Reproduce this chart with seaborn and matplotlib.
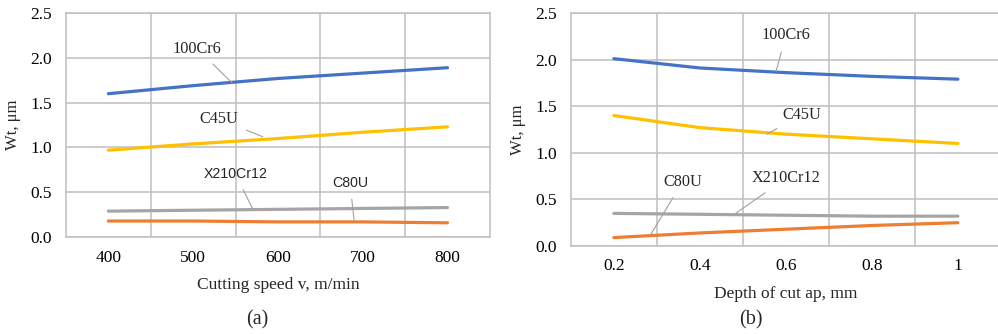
import numpy as np
import pandas as pd
import matplotlib
matplotlib.use('Agg')
import matplotlib.pyplot as plt
import seaborn as sns

# Data
materials = ['100Cr6', 'C80U', 'X210Cr12', 'C45U']
colors = ['#4472C4', '#ED7D31', '#A5A5A5', '#FFC000']

speed = [400, 500, 600, 700, 800]
wt_speed_100cr6 = [1.60, 1.69, 1.77, 1.83, 1.89]
wt_speed_c80u = [0.18, 0.18, 0.17, 0.17, 0.16]
wt_speed_x210 = [0.29, 0.30, 0.31, 0.32, 0.33]
wt_speed_c45u = [0.97, 1.04, 1.10, 1.17, 1.23]

depth = [0.2, 0.4, 0.6, 0.8, 1.0]
depth_labels = ['0.2', '0.4', '0.6', '0.8', '1']
wt_depth_100cr6 = [2.01, 1.91, 1.86, 1.82, 1.79]
wt_depth_c80u = [0.09, 0.14, 0.18, 0.22, 0.25]
wt_depth_x210 = [0.35, 0.34, 0.33, 0.32, 0.32]
wt_depth_c45u = [1.40, 1.27, 1.20, 1.15, 1.10]

y_ticks = [0.0, 0.5, 1.0, 1.5, 2.0, 2.5]


def long_form(x, series):
    rows = []
    for name, vals in zip(materials, series):
        for xi, v in zip(x, vals):
            rows.append({'x': xi, 'Wt': v, 'material': name})
    return pd.DataFrame(rows)


df_a = long_form(speed, [wt_speed_100cr6, wt_speed_c80u, wt_speed_x210, wt_speed_c45u])
df_b = long_form(depth, [wt_depth_100cr6, wt_depth_c80u, wt_depth_x210, wt_depth_c45u])

sns.set_theme(style='white')
plt.rcParams['font.family'] = ['Liberation Serif', 'DejaVu Serif']

fig = plt.figure(figsize=(9.98, 3.34), dpi=100)
ax1 = fig.add_axes([0.0661, 0.290, 0.4248, 0.671])
ax2 = fig.add_axes([0.572, 0.2635, 0.4309, 0.6976])

grid_c = '#BFBFBF'


def style_axes(ax, xlim, xticks, xlabels, minor):
    ax.set_xlim(*xlim)
    ax.set_ylim(0, 2.5)
    ax.set_xticks(xticks)
    ax.set_xticklabels(xlabels)
    ax.set_xticks(minor, minor=True)
    ax.set_yticks(y_ticks)
    ax.set_yticklabels([f'{t:.1f}' for t in y_ticks])
    ax.grid(False)
    ax.grid(True, axis='y', which='major', color=grid_c, lw=1.1)
    ax.grid(True, axis='x', which='minor', color=grid_c, lw=1.1)
    ax.set_axisbelow(True)
    for s in ax.spines.values():
        s.set_color(grid_c)
        s.set_linewidth(1.1)
    ax.tick_params(axis='both', which='both', length=0, labelsize=12.5, colors='black')
    ax.tick_params(axis='y', pad=10)
    ax.tick_params(axis='x', pad=9)
    ax.set_ylabel('Wt, μm', fontsize=12, labelpad=7)


sns.lineplot(data=df_a, x='x', y='Wt', hue='material', hue_order=materials,
             palette=colors, lw=2.3, legend=False, ax=ax1)
sns.lineplot(data=df_b, x='x', y='Wt', hue='material', hue_order=materials,
             palette=colors, lw=2.3, legend=False, ax=ax2)

style_axes(ax1, (350, 850), speed, [str(s) for s in speed], [450, 550, 650, 750])
style_axes(ax2, (0.1, 1.1), depth, depth_labels, [0.3, 0.5, 0.7, 0.9])
ax1.set_xlabel('Cutting speed v, m/min', fontsize=12.5, labelpad=8)
ax2.set_xlabel('Depth of cut ap, mm', fontsize=12.5, labelpad=8)

arrow = dict(arrowstyle='-', color='#A0A0A0', lw=0.8, shrinkA=4, shrinkB=0)
serif = ['Liberation Serif']
sans = ['Liberation Sans']

# panel (a) labels
ax1.annotate('100Cr6', xy=(546, 1.72), xytext=(505, 2.10), fontsize=11.7, family=serif,
             ha='center', va='center', arrowprops=arrow)
ax1.annotate('C45U', xy=(582, 1.12), xytext=(530, 1.32), fontsize=11.7, family=serif,
             ha='center', va='center', arrowprops=arrow)
ax1.annotate('X210Cr12', xy=(571, 0.30), xytext=(550, 0.70), fontsize=10.2, family=sans,
             ha='center', va='center', arrowprops=arrow)
ax1.annotate('C80U', xy=(690, 0.17), xytext=(685, 0.60), fontsize=10.2, family=sans,
             ha='center', va='center', arrowprops=arrow)

# panel (b) labels
ax2.annotate('100Cr6', xy=(0.577, 1.87), xytext=(0.60, 2.26), fontsize=11.7, family=serif,
             ha='center', va='center', arrowprops=arrow)
ax2.annotate('C45U', xy=(0.556, 1.20), xytext=(0.637, 1.41), fontsize=11.7, family=serif,
             ha='center', va='center', arrowprops=arrow)
ax2.annotate('X210Cr12', xy=(0.480, 0.34), xytext=(0.60, 0.726), fontsize=11.7, family=serif,
             ha='center', va='center', arrowprops=arrow)
ax2.annotate('C80U', xy=(0.284, 0.11), xytext=(0.36, 0.69), fontsize=11.7, family=serif,
             ha='center', va='center', arrowprops=arrow)

fig.text(257 / 998, 1 - 320 / 334, '(a)', fontsize=14.5, ha='center', va='center')
fig.text(751 / 998, 1 - 320 / 334, '(b)', fontsize=14.5, ha='center', va='center')

fig.savefig('out.png', dpi=100)
